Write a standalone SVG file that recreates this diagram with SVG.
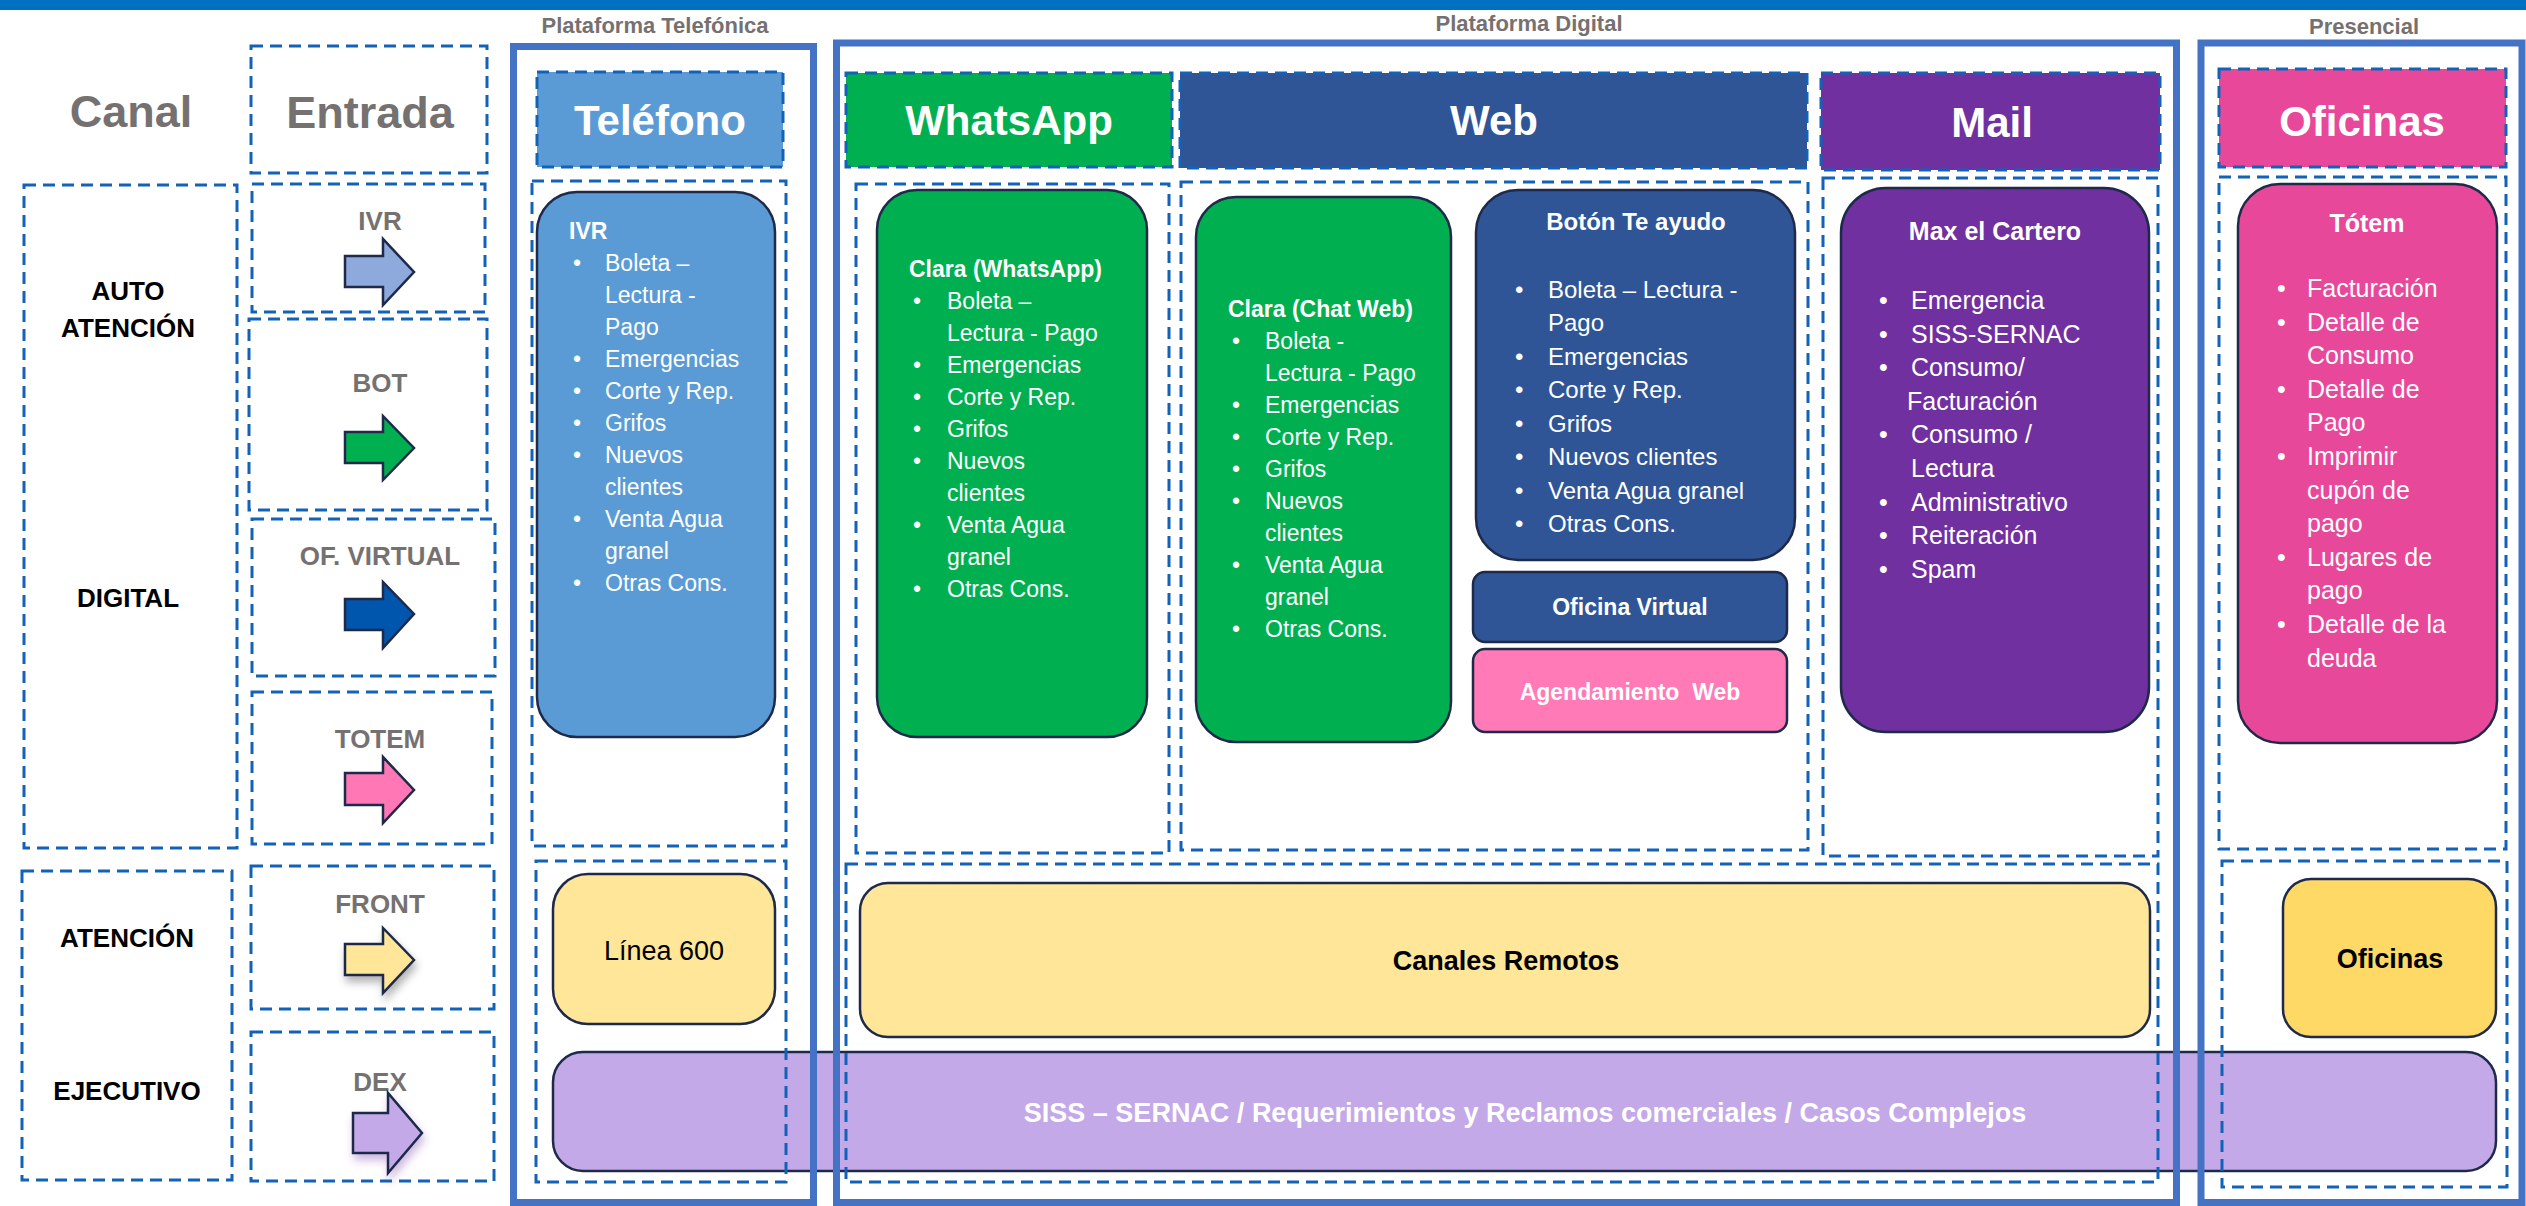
<svg xmlns="http://www.w3.org/2000/svg" width="2526" height="1206" viewBox="0 0 2526 1206">
<defs>
<style>
text{font-family:"Liberation Sans",Arial,sans-serif}
.dash{fill:none;stroke:#1262B8;stroke-width:3;stroke-dasharray:12 7}
.cont{fill:none;stroke:#4472C4;stroke-width:7}
.bx{stroke:#1F2A4A;stroke-width:2.5}
.arr{stroke:#1F2A4A;stroke-width:2.5;stroke-linejoin:miter}
.gray{fill:#767171;font-weight:bold;text-anchor:middle}
.big{font-size:45px}
.sec{font-size:22px}
.lbl{font-size:26px}
.canal{fill:#000;font-weight:bold;font-size:26px;text-anchor:middle}
.hdr{fill:#fff;font-weight:bold;font-size:42px;text-anchor:middle}
.w{fill:#fff}
.b{font-weight:bold}
.m{text-anchor:middle}
.f23{font-size:23px}
.f24{font-size:24px}
.f25{font-size:25px}
.f27{font-size:27px}
</style>
<filter id="sh" x="-30%" y="-30%" width="160%" height="170%">
<feDropShadow dx="2" dy="6" stdDeviation="4" flood-color="#000" flood-opacity="0.3"/>
</filter>
<filter id="shp" x="-30%" y="-30%" width="160%" height="170%">
<feDropShadow dx="2" dy="6" stdDeviation="4" flood-color="#7030A0" flood-opacity="0.35"/>
</filter>
</defs>

<rect x="0" y="0" width="2526" height="10" fill="#0070C0"/>

<g id="section-titles">
<text class="gray sec" x="655" y="33">Plataforma Telefónica</text>
<text class="gray sec" x="1529" y="31">Plataforma Digital</text>
<text class="gray sec" x="2364" y="34">Presencial</text>
</g>

<g id="canal-header"><text class="gray big" x="131" y="127">Canal</text></g>
<g id="entrada-header">
<rect class="dash" x="251" y="46" width="236" height="127"/>
<text class="gray big" x="370" y="128">Entrada</text>
</g>

<g id="canal-auto-digital">
<rect class="dash" x="24" y="185" width="213" height="663"/>
<text class="canal" x="128" y="300">AUTO</text>
<text class="canal" x="128" y="337">ATENCIÓN</text>
<text class="canal" x="128" y="607">DIGITAL</text>
</g>
<g id="canal-atencion-ejecutivo">
<rect class="dash" x="22" y="871" width="210" height="309"/>
<text class="canal" x="127" y="947">ATENCIÓN</text>
<text class="canal" x="127" y="1100">EJECUTIVO</text>
</g>

<g id="entrada-ivr">
<rect class="dash" x="252" y="184" width="233" height="128"/>
<text class="gray lbl" x="380" y="230">IVR</text>
<polygon class="arr" fill="#8EA9DB" points="345,256 383,256 383,239 414,272 383,305 383,287 345,287"/>
</g>
<g id="entrada-bot">
<rect class="dash" x="249" y="319" width="238" height="191"/>
<text class="gray lbl" x="380" y="392">BOT</text>
<polygon class="arr" fill="#00B050" points="345,432 383,432 383,416 414,448 383,480 383,463 345,463"/>
</g>
<g id="entrada-ofvirtual">
<rect class="dash" x="252" y="519" width="243" height="157"/>
<text class="gray lbl" x="380" y="565">OF. VIRTUAL</text>
<polygon class="arr" fill="#0056AC" points="345,599 383,599 383,582 414,614 383,648 383,630 345,630"/>
</g>
<g id="entrada-totem">
<rect class="dash" x="252" y="692" width="240" height="152"/>
<text class="gray lbl" x="380" y="748">TOTEM</text>
<polygon class="arr" fill="#FF77B5" points="345,773 383,773 383,757 414,790 383,823 383,805 345,805"/>
</g>
<g id="entrada-front">
<rect class="dash" x="251" y="866" width="243" height="143"/>
<text class="gray lbl" x="380" y="913">FRONT</text>
<polygon class="arr" fill="#FFE699" filter="url(#sh)" points="345,944 383,944 383,928 414,960 383,993 383,975 345,975"/>
</g>
<g id="entrada-dex">
<rect class="dash" x="251" y="1032" width="243" height="149"/>
<text class="gray lbl" x="380" y="1091">DEX</text>
<polygon class="arr" fill="#C4A9E8" filter="url(#shp)" points="353,1113 388,1113 388,1093 422,1133 388,1173 388,1153 353,1153"/>
</g>

<g id="siss-bar">
<rect class="bx" x="553" y="1052" width="1943" height="119" rx="30" fill="#C4A9E8" stroke-width="3"/>
<text class="w b m f27" x="1525" y="1122">SISS – SERNAC / Requerimientos y Reclamos comerciales / Casos Complejos</text>
</g>

<g id="telefono">
<rect class="dash" x="537" y="72" width="246" height="95" style="fill:#5B9BD5"/>
<text class="hdr" x="660" y="135">Teléfono</text>
</g>
<g id="telefono-ivr">
<rect class="dash" x="532" y="181" width="254" height="665"/>
<rect class="bx" x="537" y="192" width="238" height="545" rx="40" fill="#5B9BD5"/>
<g class="w f23">
<text class="b" x="569" y="239">IVR</text>
<text x="573" y="271">•</text><text x="605" y="271">Boleta –</text>
<text x="605" y="303">Lectura -</text>
<text x="605" y="335">Pago</text>
<text x="573" y="367">•</text><text x="605" y="367">Emergencias</text>
<text x="573" y="399">•</text><text x="605" y="399">Corte y Rep.</text>
<text x="573" y="431">•</text><text x="605" y="431">Grifos</text>
<text x="573" y="463">•</text><text x="605" y="463">Nuevos</text>
<text x="605" y="495">clientes</text>
<text x="573" y="527">•</text><text x="605" y="527">Venta Agua</text>
<text x="605" y="559">granel</text>
<text x="573" y="591">•</text><text x="605" y="591">Otras Cons.</text>
</g>
</g>
<g id="telefono-linea600">
<rect class="dash" x="536" y="861" width="250" height="321"/>
<rect class="bx" x="553" y="874" width="222" height="150" rx="35" fill="#FFE699"/>
<text class="m f27" x="664" y="960">Línea 600</text>
</g>

<g id="whatsapp">
<rect class="dash" x="846" y="73" width="326" height="94" style="fill:#00B050"/>
<text class="hdr" x="1009" y="135">WhatsApp</text>
</g>
<g id="clara-whatsapp">
<rect class="dash" x="856" y="184" width="313" height="669"/>
<rect class="bx" x="877" y="190" width="270" height="547" rx="40" fill="#00B050"/>
<g class="w f23">
<text class="b" x="909" y="277">Clara (WhatsApp)</text>
<text x="913" y="309">•</text><text x="947" y="309">Boleta –</text>
<text x="947" y="341">Lectura - Pago</text>
<text x="913" y="373">•</text><text x="947" y="373">Emergencias</text>
<text x="913" y="405">•</text><text x="947" y="405">Corte y Rep.</text>
<text x="913" y="437">•</text><text x="947" y="437">Grifos</text>
<text x="913" y="469">•</text><text x="947" y="469">Nuevos</text>
<text x="947" y="501">clientes</text>
<text x="913" y="533">•</text><text x="947" y="533">Venta Agua</text>
<text x="947" y="565">granel</text>
<text x="913" y="597">•</text><text x="947" y="597">Otras Cons.</text>
</g>
</g>

<g id="web">
<rect class="dash" x="1180" y="73" width="627" height="95" style="fill:#2F5597"/>
<text class="hdr" x="1494" y="135">Web</text>
</g>
<g id="web-content">
<rect class="dash" x="1181" y="182" width="627" height="668"/>
</g>
<g id="clara-chatweb">
<rect class="bx" x="1196" y="197" width="255" height="545" rx="40" fill="#00B050"/>
<g class="w f23">
<text class="b" x="1228" y="317">Clara (Chat Web)</text>
<text x="1232" y="349">•</text><text x="1265" y="349">Boleta -</text>
<text x="1265" y="381">Lectura - Pago</text>
<text x="1232" y="413">•</text><text x="1265" y="413">Emergencias</text>
<text x="1232" y="445">•</text><text x="1265" y="445">Corte y Rep.</text>
<text x="1232" y="477">•</text><text x="1265" y="477">Grifos</text>
<text x="1232" y="509">•</text><text x="1265" y="509">Nuevos</text>
<text x="1265" y="541">clientes</text>
<text x="1232" y="573">•</text><text x="1265" y="573">Venta Agua</text>
<text x="1265" y="605">granel</text>
<text x="1232" y="637">•</text><text x="1265" y="637">Otras Cons.</text>
</g>
</g>
<g id="boton-te-ayudo">
<rect class="bx" x="1476" y="190" width="319" height="370" rx="42" fill="#2F5597"/>
<g class="w f24">
<text class="b m" x="1636" y="230">Botón Te ayudo</text>
<text x="1515" y="298">•</text><text x="1548" y="298">Boleta – Lectura -</text>
<text x="1548" y="331">Pago</text>
<text x="1515" y="365">•</text><text x="1548" y="365">Emergencias</text>
<text x="1515" y="398">•</text><text x="1548" y="398">Corte y Rep.</text>
<text x="1515" y="432">•</text><text x="1548" y="432">Grifos</text>
<text x="1515" y="465">•</text><text x="1548" y="465">Nuevos clientes</text>
<text x="1515" y="499">•</text><text x="1548" y="499">Venta Agua granel</text>
<text x="1515" y="532">•</text><text x="1548" y="532">Otras Cons.</text>
</g>
</g>
<g id="oficina-virtual">
<rect class="bx" x="1473" y="572" width="314" height="70" rx="12" fill="#2F5597"/>
<text class="w b m f23" x="1630" y="615">Oficina Virtual</text>
</g>
<g id="agendamiento-web">
<rect class="bx" x="1473" y="649" width="314" height="83" rx="12" fill="#FF7AB6"/>
<text class="w b m f23" x="1630" y="700" style="white-space:pre">Agendamiento  Web</text>
</g>

<g id="mail">
<rect class="dash" x="1821" y="73" width="339" height="97" style="fill:#7030A0"/>
<text class="hdr" x="1992" y="137">Mail</text>
</g>
<g id="max-el-cartero">
<rect class="dash" x="1823" y="178" width="335" height="678"/>
<rect class="bx" x="1841" y="188" width="308" height="544" rx="45" fill="#7030A0"/>
<g class="w f25">
<text class="b m" x="1995" y="240">Max el Cartero</text>
<text x="1879" y="309">•</text><text x="1911" y="309">Emergencia</text>
<text x="1879" y="343">•</text><text x="1911" y="343">SISS-SERNAC</text>
<text x="1879" y="376">•</text><text x="1911" y="376">Consumo/</text>
<text x="1907" y="410">Facturación</text>
<text x="1879" y="443">•</text><text x="1911" y="443">Consumo /</text>
<text x="1911" y="477">Lectura</text>
<text x="1879" y="511">•</text><text x="1911" y="511">Administrativo</text>
<text x="1879" y="544">•</text><text x="1911" y="544">Reiteración</text>
<text x="1879" y="578">•</text><text x="1911" y="578">Spam</text>
</g>
</g>

<g id="oficinas">
<rect class="dash" x="2219" y="69" width="287" height="98" style="fill:#E8489A"/>
<text class="hdr" x="2362" y="136">Oficinas</text>
</g>
<g id="totem">
<rect class="dash" x="2219" y="177" width="287" height="672"/>
<rect class="bx" x="2238" y="184" width="259" height="559" rx="42" fill="#E8489A"/>
<g class="w f25">
<text class="b m" x="2367" y="232">Tótem</text>
<text x="2277" y="297">•</text><text x="2307" y="297">Facturación</text>
<text x="2277" y="331">•</text><text x="2307" y="331">Detalle de</text>
<text x="2307" y="364">Consumo</text>
<text x="2277" y="398">•</text><text x="2307" y="398">Detalle de</text>
<text x="2307" y="431">Pago</text>
<text x="2277" y="465">•</text><text x="2307" y="465">Imprimir</text>
<text x="2307" y="499">cupón de</text>
<text x="2307" y="532">pago</text>
<text x="2277" y="566">•</text><text x="2307" y="566">Lugares de</text>
<text x="2307" y="599">pago</text>
<text x="2277" y="633">•</text><text x="2307" y="633">Detalle de la</text>
<text x="2307" y="667">deuda</text>
</g>
</g>

<g id="canales-remotos">
<rect class="bx" x="860" y="883" width="1290" height="154" rx="28" fill="#FFE699"/>
<text class="b m f27" x="1506" y="970">Canales Remotos</text>
</g>
<g id="oficinas-atencion">
<rect class="bx" x="2283" y="879" width="213" height="158" rx="28" fill="#FFD966"/>
<text class="b m f27" x="2390" y="968">Oficinas</text>
</g>

<g id="atencion-zones">
<rect class="dash" x="846" y="864" width="1312" height="318"/>
<rect class="dash" x="2222" y="861" width="285" height="326"/>
</g>

<g id="platforms">
<rect id="plataforma-telefonica" class="cont" x="513.5" y="46.5" width="300" height="1156"/>
<rect id="plataforma-digital" class="cont" x="836.5" y="43" width="1340" height="1159.5"/>
<rect id="presencial" class="cont" x="2201" y="43" width="321" height="1159.5"/>
</g>

<g id="connectors"/>
</svg>
